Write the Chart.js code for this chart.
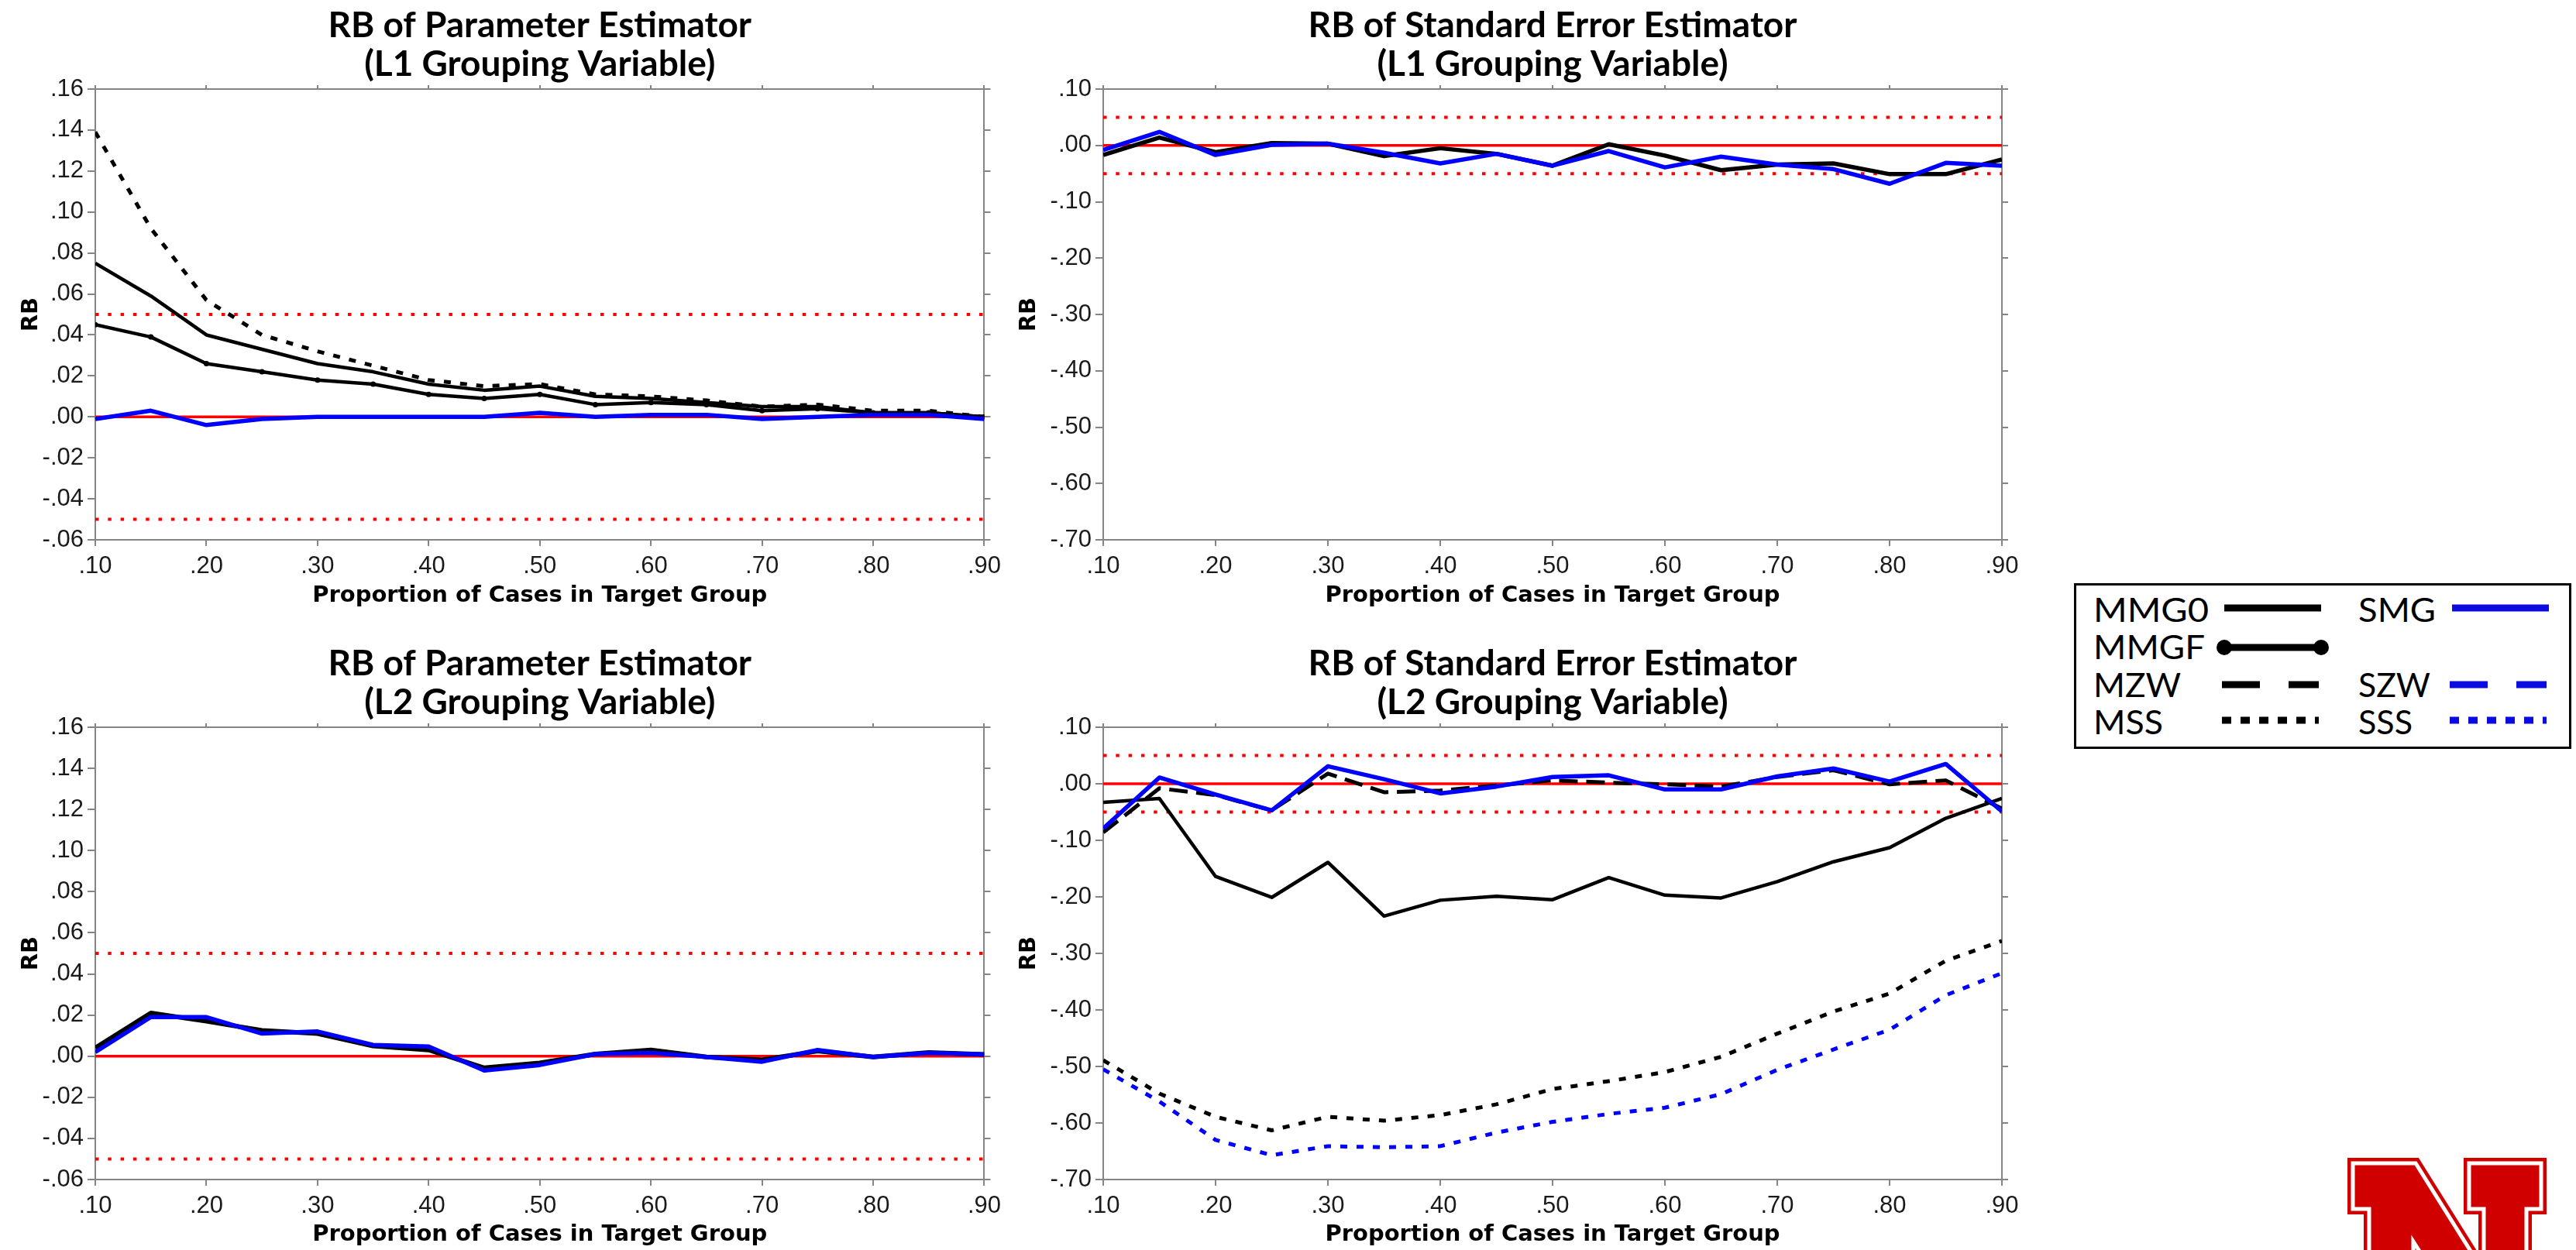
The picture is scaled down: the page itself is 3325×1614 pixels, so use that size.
<!DOCTYPE html>
<html>
<head>
<meta charset="utf-8">
<script src="https://cdn.jsdelivr.net/npm/chart.js"></script>
<style>
  body { margin:0; padding:0; background:#fff; width:3325px; height:1614px; position:relative; overflow:hidden; }
  canvas, svg { position:absolute; }
</style>
</head>
<body>
<canvas id="c1" width="1300" height="789" style="left:0px;top:0px"></canvas>
<canvas id="c2" width="1320" height="789" style="left:1300px;top:0px"></canvas>
<canvas id="c3" width="1300" height="790" style="left:0px;top:824px"></canvas>
<canvas id="c4" width="1320" height="790" style="left:1300px;top:824px"></canvas>

<!-- legend box -->
<svg id="legend" style="left:2677px;top:753px" width="642" height="214">
  <rect x="1.5" y="1.5" width="639" height="211" fill="#fff" stroke="#000" stroke-width="3"/>
  <g font-family="Lato" font-size="42" fill="#000">
    <text x="25" y="50" textLength="149" lengthAdjust="spacingAndGlyphs">MMG0</text>
    <text x="25" y="98" textLength="144" lengthAdjust="spacingAndGlyphs">MMGF</text>
    <text x="25" y="147" textLength="113" lengthAdjust="spacingAndGlyphs">MZW</text>
    <text x="25" y="195" textLength="90" lengthAdjust="spacingAndGlyphs">MSS</text>
    <text x="367" y="50" textLength="100" lengthAdjust="spacingAndGlyphs">SMG</text>
    <text x="367" y="147" textLength="93" lengthAdjust="spacingAndGlyphs">SZW</text>
    <text x="367" y="195" textLength="70" lengthAdjust="spacingAndGlyphs">SSS</text>
  </g>
  <g stroke-width="9">
    <line x1="194" y1="32" x2="319" y2="32" stroke="#000"/>
    <line x1="194" y1="83" x2="319" y2="83" stroke="#000"/>
    <circle cx="194" cy="83" r="10" fill="#000" stroke="none"/>
    <circle cx="319" cy="83" r="10" fill="#000" stroke="none"/>
    <line x1="191" y1="131" x2="316" y2="131" stroke="#000" stroke-dasharray="49 37"/>
    <line x1="191" y1="177" x2="316" y2="177" stroke="#000" stroke-dasharray="12 12"/>
    <line x1="488" y1="32" x2="613" y2="32" stroke="#0c0ce0"/>
    <line x1="485" y1="131" x2="610" y2="131" stroke="#0c0ce0" stroke-dasharray="49 37"/>
    <line x1="485" y1="177" x2="610" y2="177" stroke="#0c0ce0" stroke-dasharray="12 12"/>
  </g>
</svg>

<!-- university logo, bottom right -->
<svg id="logo" style="left:2990px;top:1450px" width="335" height="164">
  <g fill="#d00000" stroke="#d00000" stroke-width="14" stroke-linejoin="miter">
    <path d="M47,52 L128,52 L205,175 L139,175 L125,153 L125,175 L68,175 L68,111 L47,111 Z"/>
    <path d="M197,52 L290,52 L290,111 L271,111 L271,175 L216,175 L216,111 L197,111 Z"/>
  </g>
  <g fill="none" stroke="#fff" stroke-width="5">
    <path d="M47,52 L128,52 L205,175 L139,175 L125,153 L125,175 L68,175 L68,111 L47,111 Z"/>
    <path d="M197,52 L290,52 L290,111 L271,111 L271,175 L216,175 L216,111 L197,111 Z"/>
  </g>
</svg>

<script>
// proportion of cases in target group
const xCats = [0.10, 0.15, 0.20, 0.25, 0.30, 0.35, 0.40, 0.45, 0.50, 0.55, 0.60, 0.65, 0.70, 0.75, 0.80, 0.85, 0.90];
const xTicks = [0.1, 0.2, 0.3, 0.4, 0.5, 0.6, 0.7, 0.8, 0.9];
const yTicksParam = [-0.06, -0.04, -0.02, 0.00, 0.02, 0.04, 0.06, 0.08, 0.10, 0.12, 0.14, 0.16];
const yTicksSE = [-0.7, -0.6, -0.5, -0.4, -0.3, -0.2, -0.1, 0.0, 0.1];
const cutoffs = [0, 0.05, -0.05];

// RB of parameter estimator, L1 grouping variable
const p1MSS  = [0.139, 0.092, 0.057, 0.040, 0.032, 0.025, 0.018, 0.015, 0.016, 0.011, 0.010, 0.008, 0.005, 0.006, 0.003, 0.003, 0.000];
const p1MMG0 = [0.075, 0.059, 0.040, 0.033, 0.026, 0.022, 0.016, 0.013, 0.015, 0.010, 0.009, 0.007, 0.005, 0.005, 0.002, 0.002, 0.000];
const p1MMGF = [0.045, 0.039, 0.026, 0.022, 0.018, 0.016, 0.011, 0.009, 0.011, 0.006, 0.007, 0.006, 0.003, 0.004, 0.002, 0.002, 0.000];
const p1SMG  = [-0.001, 0.003, -0.004, -0.001, 0.000, 0.000, 0.000, 0.000, 0.002, 0.000, 0.001, 0.001, -0.001, 0.000, 0.001, 0.001, -0.001];

// RB of standard error estimator, L1 grouping variable
const p2Black = [-0.017, 0.014, -0.012, 0.004, 0.003, -0.019, -0.005, -0.015, -0.036, 0.002, -0.018, -0.044, -0.034, -0.032, -0.051, -0.051, -0.025];
const p2Blue  = [-0.008, 0.024, -0.017, 0.001, 0.003, -0.013, -0.032, -0.015, -0.036, -0.010, -0.039, -0.020, -0.034, -0.042, -0.068, -0.031, -0.036];

// RB of parameter estimator, L2 grouping variable
const p3Black = [0.004, 0.021, 0.017, 0.0125, 0.011, 0.005, 0.003, -0.0057, -0.0033, 0.001, 0.003, -0.0004, -0.0018, 0.0025, -0.0004, 0.0018, 0.0008];
const p3Blue  = [0.002, 0.019, 0.019, 0.011, 0.012, 0.0055, 0.0047, -0.007, -0.0043, 0.001, 0.0016, -0.0004, -0.0027, 0.003, -0.0004, 0.0016, 0.0008];

// RB of standard error estimator, L2 grouping variable
const p4MMG0 = [-0.033, -0.026, -0.164, -0.201, -0.139, -0.234, -0.206, -0.199, -0.205, -0.166, -0.197, -0.202, -0.173, -0.138, -0.113, -0.061, -0.026];
const p4MZW  = [-0.086, -0.008, -0.020, -0.047, 0.018, -0.015, -0.012, -0.003, 0.006, 0.002, -0.001, -0.005, 0.012, 0.024, -0.001, 0.006, -0.044];
const p4SMG  = [-0.079, 0.011, -0.019, -0.047, 0.031, 0.008, -0.017, -0.005, 0.012, 0.015, -0.010, -0.010, 0.013, 0.027, 0.004, 0.035, -0.049];
const p4MSS  = [-0.489, -0.548, -0.589, -0.613, -0.589, -0.596, -0.586, -0.567, -0.540, -0.526, -0.510, -0.483, -0.442, -0.403, -0.371, -0.313, -0.278];
const p4SSS  = [-0.505, -0.562, -0.630, -0.657, -0.641, -0.643, -0.641, -0.617, -0.598, -0.584, -0.573, -0.549, -0.506, -0.470, -0.435, -0.374, -0.335];

const BLACK = '#000000';
const BLUE = '#0000ff';
const RED = '#ff0000';
const AXIS = '#858585';
const DOT = [9, 12];
const DASH = [24, 11];

Chart.defaults.font.family = 'Liberation Sans';

const fmt = v => {
  const n = Math.round(v * 100) / 100;
  return (n < 0 ? '-' : '') + Math.abs(n).toFixed(2).slice(1);
};

const pts = arr => arr.map((v, i) => ({ x: xCats[i], y: v }));

function series(label, arr, color, width, dash, extra) {
  return Object.assign({
    label: label,
    data: pts(arr),
    borderColor: color,
    backgroundColor: color,
    borderWidth: width,
    borderDash: dash || [],
    pointRadius: 0,
    fill: false,
    xAxisID: 'x',
    yAxisID: 'y'
  }, extra || {});
}

function refLines() {
  return cutoffs.map(c => ({
    label: 'ref ' + c,
    data: [{ x: xCats[0], y: c }, { x: xCats[xCats.length - 1], y: c }],
    borderColor: RED,
    borderWidth: c === 0 ? 3.5 : 4,
    borderDash: c === 0 ? [] : [4.5, 11.8],
    pointRadius: 0,
    fill: false,
    xAxisID: 'x',
    yAxisID: 'y'
  }));
}

function makePanel(id, o) {
  const tickFont = { family: 'Liberation Sans', size: 31 };
  const titleFont = { family: 'DejaVu Sans', weight: 'bold', size: 29 };
  const setX = s => { s.ticks = xTicks.map(v => ({ value: v })); };
  const setY = s => { s.ticks = o.yTicks.map(v => ({ value: v })); };
  const yMin = o.yTicks[0], yMax = o.yTicks[o.yTicks.length - 1];
  return new Chart(document.getElementById(id), {
    type: 'line',
    data: { datasets: o.datasets.concat(refLines()) },
    options: {
      responsive: false,
      animation: false,
      devicePixelRatio: 1,
      layout: { padding: 0 },
      elements: { line: { tension: 0, borderCapStyle: 'butt', borderJoinStyle: 'round' } },
      plugins: {
        legend: { display: false },
        tooltip: { enabled: false },
        title: {
          display: true,
          text: o.title,
          fullSize: false,
          color: '#000',
          font: { family: 'Lato', weight: 'bold', size: 46, lineHeight: 50 / 46 },
          padding: { top: 8, bottom: 0 }
        }
      },
      scales: {
        x: {
          type: 'linear', position: 'bottom', min: xTicks[0], max: xTicks[xTicks.length - 1],
          afterBuildTicks: setX,
          ticks: { callback: fmt, font: tickFont, color: '#1a1a1a', padding: 8, maxRotation: 0, autoSkip: false },
          grid: { drawOnChartArea: false, drawTicks: true, tickLength: 8, color: AXIS, lineWidth: 2 },
          border: { display: true, color: AXIS, width: 2 },
          title: { display: true, text: 'Proportion of Cases in Target Group', color: '#000', font: titleFont, padding: { top: 0, bottom: 2.6 } },
          afterFit: s => { s.height = o.xH; }
        },
        xTop: {
          type: 'linear', position: 'top', min: xTicks[0], max: xTicks[xTicks.length - 1],
          afterBuildTicks: setX,
          ticks: { display: false },
          grid: { drawOnChartArea: false, drawTicks: true, tickLength: 5, color: AXIS, lineWidth: 2 },
          border: { display: true, color: AXIS, width: 2 },
          afterFit: s => { s.height = 7; }
        },
        y: {
          type: 'linear', position: 'left', min: yMin, max: yMax,
          afterBuildTicks: setY,
          ticks: { callback: fmt, font: tickFont, color: '#1a1a1a', padding: 5, autoSkip: false },
          grid: { drawOnChartArea: false, drawTicks: true, tickLength: 10, color: AXIS, lineWidth: 2 },
          border: { display: true, color: AXIS, width: 2 },
          title: { display: true, text: 'RB', color: '#000', font: titleFont, padding: { top: o.rbPad, bottom: 0 } },
          afterFit: s => { s.width = o.yW; }
        },
        yRight: {
          type: 'linear', position: 'right', min: yMin, max: yMax,
          afterBuildTicks: setY,
          ticks: { display: false },
          grid: { drawOnChartArea: false, drawTicks: true, tickLength: 8, color: AXIS, lineWidth: 2 },
          border: { display: true, color: AXIS, width: 2 },
          afterFit: s => { s.width = o.y2W; }
        }
      }
    }
  });
}

makePanel('c1', {
  title: ['RB of Parameter Estimator', '(L1 Grouping Variable)'],
  yTicks: yTicksParam, yW: 123, y2W: 23, rbPad: 22.6, xH: 92,
  datasets: [
    series('SMG', p1SMG, BLUE, 5.5),
    series('MMGF', p1MMGF, BLACK, 4.5, null, { pointRadius: 3.5, pointBorderWidth: 0 }),
    series('MMG0', p1MMG0, BLACK, 4.5),
    series('MSS', p1MSS, BLACK, 5, DOT)
  ]
});

makePanel('c2', {
  title: ['RB of Standard Error Estimator', '(L1 Grouping Variable)'],
  yTicks: yTicksSE, yW: 124, y2W: 36, rbPad: 10.6, xH: 92,
  datasets: [
    series('SMG', p2Blue, BLUE, 5.5),
    series('MMG0', p2Black, BLACK, 5.5)
  ]
});

makePanel('c3', {
  title: ['RB of Parameter Estimator', '(L2 Grouping Variable)'],
  yTicks: yTicksParam, yW: 123, y2W: 23, rbPad: 22.6, xH: 91,
  datasets: [
    series('SMG', p3Blue, BLUE, 5.5),
    series('MMG0', p3Black, BLACK, 6)
  ]
});

makePanel('c4', {
  title: ['RB of Standard Error Estimator', '(L2 Grouping Variable)'],
  yTicks: yTicksSE, yW: 124, y2W: 36, rbPad: 10.6, xH: 91,
  datasets: [
    series('SMG', p4SMG, BLUE, 5.5),
    series('MZW', p4MZW, BLACK, 5, DASH),
    series('MMG0', p4MMG0, BLACK, 4.5),
    series('MSS', p4MSS, BLACK, 5, DOT),
    series('SSS', p4SSS, BLUE, 5, DOT)
  ]
});
</script>
</body>
</html>
